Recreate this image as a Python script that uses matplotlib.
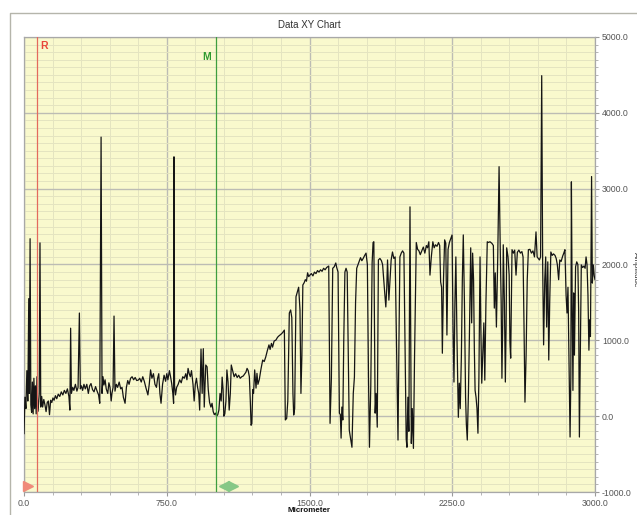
import matplotlib
matplotlib.use("Agg")
import matplotlib.pyplot as plt
from matplotlib.lines import Line2D
from matplotlib.ticker import MultipleLocator, FuncFormatter

plt.rcParams['font.family'] = ['Liberation Sans', 'DejaVu Sans']

# ---------------- data ----------------
x_um = [0, 5, 10, 15, 20, 25, 28, 32, 36, 40, 44, 48, 52, 56, 60, 64, 68, 72, 76, 80,
        84, 88, 93, 98, 104, 110, 116, 122, 128, 134, 140, 146, 152, 158, 165, 172, 180, 188, 196, 204,
        212, 220, 228, 236, 241, 245, 249, 256, 262, 270, 278, 284, 291, 296, 302, 308, 315, 322, 330, 338,
        345, 352, 360, 368, 376, 384, 392, 398, 405, 410, 415, 420, 426, 432, 440, 446, 452, 458, 462, 468,
        473, 478, 485, 492, 500, 508, 515, 522, 531, 538, 545, 552, 560, 568, 576, 584, 592, 600, 608, 616,
        624, 632, 640, 651, 658, 665, 672, 680, 688, 696, 702, 708, 714, 720, 728, 736, 744, 750, 756, 764,
        770, 776, 782, 786, 788, 791, 796, 802, 810, 818, 826, 834, 842, 850, 856, 862, 868, 874, 880, 888,
        894, 900, 906, 912, 918, 923, 930, 936, 942, 947, 955, 962, 968, 975, 982, 988, 994, 1000, 1006, 1012,
        1018, 1024, 1030, 1036, 1041, 1046, 1050, 1055, 1061, 1066, 1072, 1078, 1084, 1089, 1096, 1104, 1112, 1120, 1128, 1136,
        1144, 1152, 1160, 1166, 1172, 1178, 1184, 1189, 1193, 1197, 1202, 1206, 1212, 1219, 1224, 1229, 1236, 1245, 1254, 1262,
        1270, 1278, 1287, 1293, 1300, 1306, 1314, 1324, 1332, 1340, 1350, 1358, 1368, 1373, 1380, 1386, 1394, 1401, 1407, 1413,
        1417, 1422, 1429, 1436, 1443, 1450, 1455, 1460, 1465, 1472, 1478, 1484, 1490, 1496, 1502, 1510, 1518, 1526, 1534, 1542,
        1550, 1558, 1566, 1574, 1582, 1590, 1601, 1608, 1615, 1622, 1630, 1638, 1643, 1650, 1657, 1662, 1666, 1670, 1675, 1680,
        1686, 1692, 1698, 1703, 1709, 1716, 1723, 1730, 1736, 1742, 1748, 1755, 1762, 1768, 1775, 1782, 1790, 1797, 1804, 1810,
        1815, 1822, 1829, 1834, 1838, 1845, 1850, 1856, 1862, 1870, 1878, 1884, 1891, 1896, 1901, 1906, 1910, 1917, 1923, 1929,
        1936, 1943, 1950, 1958, 1965, 1970, 1975, 1982, 1989, 1996, 2002, 2008, 2012, 2017, 2022, 2028, 2032, 2035, 2040, 2046,
        2052, 2061, 2068, 2075, 2082, 2090, 2098, 2106, 2114, 2120, 2127, 2133, 2140, 2148, 2155, 2162, 2170, 2178, 2184, 2189,
        2194, 2198, 2204, 2210, 2216, 2222, 2228, 2235, 2242, 2249, 2254, 2259, 2264, 2269, 2275, 2282, 2287, 2292, 2298, 2303,
        2308, 2314, 2320, 2324, 2329, 2335, 2340, 2347, 2352, 2357, 2362, 2366, 2370, 2375, 2380, 2385, 2390, 2396, 2400, 2405,
        2410, 2416, 2421, 2427, 2434, 2440, 2448, 2458, 2466, 2471, 2476, 2482, 2489, 2496, 2502, 2507, 2511, 2515, 2518, 2524,
        2529, 2533, 2536, 2543, 2549, 2553, 2557, 2564, 2571, 2578, 2585, 2592, 2600, 2608, 2616, 2622, 2627, 2632, 2638, 2644,
        2650, 2658, 2666, 2674, 2682, 2690, 2696, 2702, 2708, 2714, 2720, 2725, 2730, 2736, 2741, 2746, 2752, 2757, 2762, 2768,
        2775, 2782, 2790, 2796, 2802, 2809, 2815, 2822, 2830, 2836, 2842, 2848, 2853, 2858, 2863, 2869, 2873, 2876, 2880, 2884,
        2888, 2892, 2898, 2904, 2910, 2914, 2918, 2923, 2928, 2935, 2942, 2948, 2953, 2958, 2963, 2968, 2972, 2976, 2982, 2986,
        2991, 2996, 3000]
y_val = [-230, 250, 100, 600, 200, 1550, 300, 2340, 150, 50, 450, 30, 500, 100, 400, 30, 520, 60, 150, 300,
         2285, 120, 260, 120, 220, 150, 60, 180, 200, 20, 210, 180, 240, 210, 270, 230, 290, 260, 320, 280,
         340, 300, 360, 260, 80, 1160, 300, 380, 340, 420, 330, 380, 1360, 360, 400, 340, 420, 360, 420, 300,
         400, 430, 350, 320, 390, 330, 280, 170, 3680, 300, 520, 410, 480, 360, 300, 440, 380, 200, 300, 380,
         1320, 330, 420, 380, 450, 360, 380, 250, 170, 380, 470, 420, 500, 520, 480, 510, 470, 475, 500, 450,
         520, 460, 380, 280, 420, 610, 500, 560, 420, 380, 500, 560, 300, 170, 420, 540, 460, 560, 480, 600,
         520, 430, 300, 170, 3420, 400, 280, 380, 420, 480, 440, 520, 500, 560, 480, 630, 560, 520, 600, 420,
         200, 420, 500, 380, 300, 80, 885, 300, 890, 120, 675, 650, 350, 180, 120, 170, 60, 20, 40, 0,
         20, 80, 300, 200, 515, 350, 0, 30, 200, 610, 450, 80, 300, 675, 600, 520, 560, 510, 540, 500,
         520, 530, 560, 580, 630, 600, 520, 200, -120, -100, 350, 300, 610, 370, 565, 420, 480, 620, 740, 720,
         780, 860, 940, 880, 960, 910, 990, 1005, 1040, 1060, 1080, 1100, 1135, -50, -30, 200, 1360, 1400, 1300, 300,
         15, 100, 1575, 1640, 1700, 1400, 300, 800, 1730, 1760, 1800, 1780, 1890, 1840, 1860, 1880, 1850, 1900, 1880, 1920,
         1900, 1930, 1910, 1950, 1930, 1960, 1980, -95, 500, 1950, 1970, 2020, 1960, 1900, 40, 20, -290, 120, -50, 1000,
         1900, 1950, 1900, 1000, -185, -300, -410, 300, 515, 1500, 1950, 2000, 2050, 2090, 2050, 2080, 2120, 2150, 2000, 500,
         -410, 400, 2020, 2290, 2300, 40, 300, -145, 2060, 2080, 2050, 2000, 1755, 1600, 1440, 1700, 2060, 1530, 1800, 2060,
         2165, 2080, 2100, 800, -315, 1000, 2100, 2150, 2180, 2150, 900, -300, -410, 250, -200, 2760, 1000, -360, 100, -425,
         800, 2290, 2200, 2180, 2130, 2180, 2230, 2150, 2250, 2220, 2300, 1860, 2100, 2300, 2220, 2260, 2240, 2290, 2250, 1770,
         1700, 830, 1800, 2325, 2280, 1070, 2200, 2290, 2340, 2390, 1200, 450, 1500, 2100, 1000, -15, 435, 100, 800, 1800,
         2390, 1500, 250, -100, -315, 300, 1045, 2220, 1230, 2150, 1800, 900, 340, 250, 100, -225, 500, 2100, 1200, 435,
         800, 1230, 475, 1500, 2300, 2290, 2300, 2280, 2250, 1425, 1890, 1175, 2100, 3290, 2230, 1500, 500, 1200, 2260, 1500,
         450, 1200, 2220, 2100, 1860, 980, 765, 2195, 2150, 2190, 1860, 2160, 2190, 2150, 2170, 2100, 1200, 185, 800, 1800,
         2195, 2200, 2150, 2180, 2100, 2430, 2100, 2080, 2060, 2100, 4490, 2000, 940, 1800, 2100, 1175, 2035, 740, 1500, 2165,
         2120, 2140, 2120, 2080, 2000, 1800, 2060, 2040, 2110, 2150, 2195, 1600, 1360, 1700, 800, -275, 500, 3090, 1500, 340,
         1625, 805, 1970, 2035, 2000, 1400, -275, 800, 1995, 1960, 1980, 1950, 2100, 2000, 1600, 870, 1270, 1050, 3160, 1755,
         1995, 1850, 1800]

x_ticks = [0.0, 750.0, 1500.0, 2250.0, 3000.0]
y_ticks = [-1000.0, 0.0, 1000.0, 2000.0, 3000.0, 4000.0, 5000.0]
cursor_r = 70
cursor_m = 1010

# ---------------- figure ----------------
W, H = 637, 515
fig = plt.figure(figsize=(W / 100, H / 100), dpi=100)
fig.patch.set_facecolor("white")

ax = fig.add_axes([24 / W, 1 - 492 / H, (595 - 24) / W, (492 - 37) / H])
ax.set_facecolor("#f9f9cd")

ax.set_xlim(0, 3000)
ax.set_ylim(-1000, 5000)

ax.xaxis.set_major_locator(MultipleLocator(750))
ax.xaxis.set_minor_locator(MultipleLocator(150))
ax.yaxis.set_major_locator(MultipleLocator(1000))
ax.yaxis.set_minor_locator(MultipleLocator(100))

ax.grid(which="major", color="#bcbcb4", linewidth=1.0)
ax.grid(which="minor", color="#e4e4c0", linewidth=0.7)
ax.set_axisbelow(True)

fmt = FuncFormatter(lambda v, p: f"{v:.1f}")
ax.xaxis.set_major_formatter(fmt)
ax.yaxis.set_major_formatter(fmt)
ax.set_xticks(x_ticks)
ax.set_yticks(y_ticks)

ax.yaxis.tick_right()
ax.tick_params(axis="both", which="major", labelsize=6.3, colors="#9a9a9a",
               labelcolor="#555555", length=3, width=0.8)
ax.tick_params(axis="both", which="minor", colors="#a8a8a8", length=2, width=0.6)
ax.tick_params(axis="x", pad=2)
ax.tick_params(axis="y", pad=2)

for s in ax.spines.values():
    s.set_color("#a8a8a8")
    s.set_linewidth(0.9)

# trace
ax.plot(x_um, y_val, color="#151515", linewidth=0.9, zorder=3)

# cursors
ax.axvline(cursor_r, color="#e46a5e", linewidth=0.9, zorder=4)
ax.axvline(cursor_m, color="#3e9e3e", linewidth=0.9, zorder=4)
ax.text(cursor_r + 15, 4880, "R", color="#e8453a", fontsize=7.5, fontweight="bold",
        ha="left", va="center", zorder=5)
ax.text(cursor_m - 30, 4740, "M", color="#2e9a2e", fontsize=7.5, fontweight="bold",
        ha="right", va="center", zorder=5)

# bottom cursor handles
ax.plot([20], [-925], marker=">", markersize=7, color="#f08a7a", linestyle="none",
        zorder=5, clip_on=False)
ax.plot([1052], [-925], marker="<", markersize=7, color="#86c886", linestyle="none", zorder=5)
ax.plot([1100], [-925], marker=">", markersize=7, color="#86c886", linestyle="none", zorder=5)

# title and labels
fig.text(309.5 / W, 1 - 25 / H, "Data XY Chart", ha="center", va="center",
         fontsize=7, color="#333333")
fig.text(309.5 / W, 1 - 510 / H, "Micrometer", ha="center", va="center",
         fontsize=5.8, fontweight="bold", color="#111111")
fig.text(632 / W, 1 - 270 / H, "Amplitude", ha="left", va="center", rotation=270,
         fontsize=5.8, color="#333333")

# outer frame
fig.add_artist(Line2D([10 / W, 10 / W, 1.0], [0.0, 1 - 13 / H, 1 - 13 / H],
                      transform=fig.transFigure, color="#b5b5ab", linewidth=1.0))

fig.savefig("out.png", dpi=100)
